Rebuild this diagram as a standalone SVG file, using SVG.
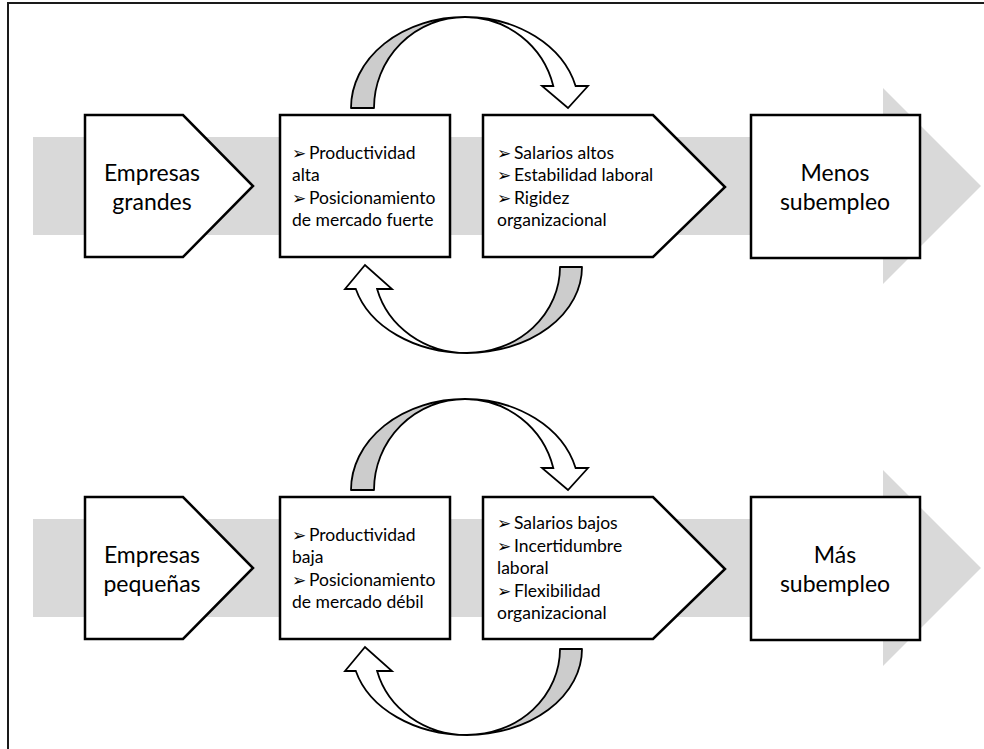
<svg xmlns="http://www.w3.org/2000/svg" width="984" height="749" viewBox="0 0 984 749">
  <style>
    .band { fill: #d9d9d9; }
    .box { fill: #ffffff; stroke: #000000; stroke-width: 2.5; stroke-linejoin: miter; }
    .big { font-family: Lato, "Open Sans", "Liberation Sans", sans-serif; font-size: 23px; fill: #000; text-anchor: middle; }
    .item { font-family: Lato, "Open Sans", "Liberation Sans", sans-serif; font-size: 17.5px; fill: #000; }
    .bul { font-family: "DejaVu Sans", sans-serif; font-size: 17px; fill: #000; }
    .loop-back { fill: #cccccc; stroke: #000; stroke-width: 1.8; stroke-linejoin: round; }
    .loop-front { fill: #ffffff; stroke: #000; stroke-width: 1.8; stroke-linejoin: miter; }
  </style>

  <rect width="984" height="749" fill="#ffffff"/>
  <!-- outer frame (top and left edges) -->
  <path d="M8,749 V3 H984" fill="none" stroke="#1a1a1a" stroke-width="2"/>

  <!-- wide background flow arrows -->
  <g id="flow-top">
    <polygon class="band" points="33,137 883,137 883,88 981,186 883,284 883,235 33,235"/>
  </g>
  <g id="flow-bottom">
    <polygon class="band" points="33,519 883,519 883,470 981,568 883,666 883,617 33,617"/>
  </g>

  <!-- upper row -->
  <g id="empresas-grandes">
    <polygon class="box" points="85,115 183,115 253,186 183,257 85,257"/>
    <text class="big" x="152" y="181">Empresas</text>
    <text class="big" x="152" y="210">grandes</text>
  </g>

  <g id="productividad-alta">
    <rect class="box" x="280" y="115" width="170" height="142"/>
    <text class="bul" x="292" y="158.5">➢</text>
    <text class="item" x="309" y="158.5">Productividad</text>
    <text class="item" x="292" y="181">alta</text>
    <text class="bul" x="292" y="203.5">➢</text>
    <text class="item" x="309" y="203.5">Posicionamiento</text>
    <text class="item" x="292" y="226">de mercado fuerte</text>
  </g>

  <g id="salarios-altos">
    <polygon class="box" points="483,115 653,115 725,187 653,257 483,257"/>
    <text class="bul" x="497" y="158.5">➢</text>
    <text class="item" x="514" y="158.5">Salarios altos</text>
    <text class="bul" x="497" y="181">➢</text>
    <text class="item" x="514" y="181">Estabilidad laboral</text>
    <text class="bul" x="497" y="203.5">➢</text>
    <text class="item" x="514" y="203.5">Rigidez</text>
    <text class="item" x="497" y="226">organizacional</text>
  </g>

  <g id="menos-subempleo">
    <rect class="box" x="751" y="115" width="169" height="143"/>
    <text class="big" x="835" y="181">Menos</text>
    <text class="big" x="835" y="210">subempleo</text>
  </g>

  <!-- lower row -->
  <g id="empresas-pequenas">
    <polygon class="box" points="85,497 183,497 253,568 183,639 85,639"/>
    <text class="big" x="152" y="563">Empresas</text>
    <text class="big" x="152" y="592">pequeñas</text>
  </g>

  <g id="productividad-baja">
    <rect class="box" x="280" y="497" width="170" height="142"/>
    <text class="bul" x="292" y="540.5">➢</text>
    <text class="item" x="309" y="540.5">Productividad</text>
    <text class="item" x="292" y="563">baja</text>
    <text class="bul" x="292" y="585.5">➢</text>
    <text class="item" x="309" y="585.5">Posicionamiento</text>
    <text class="item" x="292" y="608">de mercado débil</text>
  </g>

  <g id="salarios-bajos">
    <polygon class="box" points="483,497 653,497 725,569 653,639 483,639"/>
    <text class="bul" x="497" y="529">➢</text>
    <text class="item" x="514" y="529">Salarios bajos</text>
    <text class="bul" x="497" y="551.5">➢</text>
    <text class="item" x="514" y="551.5">Incertidumbre</text>
    <text class="item" x="497" y="574">laboral</text>
    <text class="bul" x="497" y="596.5">➢</text>
    <text class="item" x="514" y="596.5">Flexibilidad</text>
    <text class="item" x="497" y="619">organizacional</text>
  </g>

  <g id="mas-subempleo">
    <rect class="box" x="751" y="497" width="169" height="143"/>
    <text class="big" x="835" y="563">Más</text>
    <text class="big" x="835" y="592">subempleo</text>
  </g>

  <!-- feedback loops between the two middle boxes of each row -->
  <g id="connectors">
    <!-- upper row, over the top -->
    <path class="loop-back" d="M351,108 A114,91 0 0 1 465,17 A91,91 0 0 0 374,108 Z"/>
    <path class="loop-front" d="M465,17 A114,91 0 0 1 575.6,86 L588,86 L568,108 L542,86 L553.3,86 A91,91 0 0 0 465,17 Z"/>
    <!-- upper row, underneath -->
    <path class="loop-back" d="M582,267 A115,86 0 0 1 467,353 A93,86 0 0 0 560,267 Z"/>
    <path class="loop-front" d="M467,353 A115,86 0 0 1 355.8,289 L345,289 L365,265 L392,289 L377.1,289 A93,86 0 0 0 467,353 Z"/>

    <!-- lower row, over the top -->
    <path class="loop-back" d="M351,490 A114,91 0 0 1 465,399 A91,91 0 0 0 374,490 Z"/>
    <path class="loop-front" d="M465,399 A114,91 0 0 1 575.6,468 L588,468 L568,490 L542,468 L553.3,468 A91,91 0 0 0 465,399 Z"/>
    <!-- lower row, underneath -->
    <path class="loop-back" d="M582,649 A115,86 0 0 1 467,735 A93,86 0 0 0 560,649 Z"/>
    <path class="loop-front" d="M467,735 A115,86 0 0 1 355.8,671 L345,671 L365,647 L392,671 L377.1,671 A93,86 0 0 0 467,735 Z"/>
  </g>
</svg>
